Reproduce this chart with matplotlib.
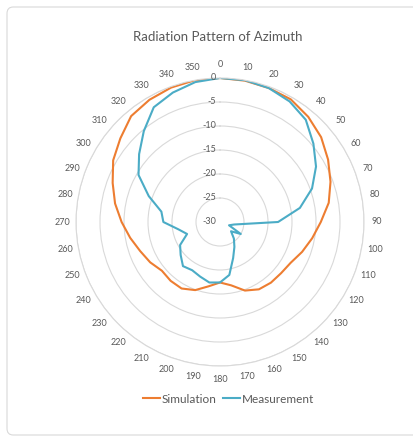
"""
Radiation pattern of azimuth: simulation vs measurement (Excel-style radar)
"""
import numpy as np
import matplotlib
matplotlib.use('Agg')
import matplotlib.pyplot as plt
from matplotlib.patches import FancyBboxPatch

plt.rcParams['font.family'] = ['Lato', 'DejaVu Sans']

angles = list(range(0, 360, 10))
simulation = [0, -0.1, -0.3, -0.5, -1.4, -2.5, -4.0, -5.5, -7.0, -9.0,
              -10.5, -11.8, -13.0, -13.4, -13.5, -13.8, -14.8, -16.6, -17.4, -16.4,
              -14.9, -14.0, -14.0, -14.2, -13.2, -12.3, -11.0, -9.5, -7.8, -6.2,
              -4.3, -2.9, -1.2, -0.6, -0.2, 0]
measurement = [0, 0, -0.3, -1.0, -2.2, -4.6, -6.9, -9.6, -13.1, -17.9,
               -27.0, -28.0, -25.0, -27.0, -25.5, -24.0, -22.0, -18.8, -17.4, -17.2,
               -17.9, -18.4, -18.0, -19.3, -20.4, -22.7, -21.2, -18.2, -17.6, -14.2,
               -10.4, -8.0, -5.3, -2.4, -1.3, -0.4]
r_ticks = [0, -5, -10, -15, -20, -25, -30]

fig = plt.figure(figsize=(4.13, 4.36), dpi=100)

# chart area frame
frame = FancyBboxPatch((7 / 413, 1 / 436), 440 / 413, 428 / 436,
                       boxstyle='round,pad=0,rounding_size=0.015',
                       transform=fig.transFigure, facecolor='white',
                       edgecolor='#d9d9d9', linewidth=0.8, zorder=-5)
fig.patches.append(frame)

ax = fig.add_axes([76 / 413, 70 / 436, 288 / 413, 288 / 436], projection='polar')
ax.set_theta_zero_location('N')
ax.set_theta_direction(-1)
ax.set_ylim(-30, 0)
ax.patch.set_alpha(0)

theta = np.deg2rad(angles + [angles[0]])
ax.plot(theta, simulation + [simulation[0]], color='#ED7D31', lw=1.5, label='Simulation')
ax.plot(theta, measurement + [measurement[0]], color='#4BACC6', lw=1.5, label='Measurement')

ax.set_yticks(r_ticks)
ax.set_yticklabels([])
ax.yaxis.grid(True, color='#d9d9d9', lw=0.8)
ax.xaxis.grid(False)
ax.spines['polar'].set_color('#d9d9d9')
ax.spines['polar'].set_linewidth(0.8)
ax.set_thetagrids(angles, [str(a) for a in angles], fontsize=6.5, color='#595959')
ax.tick_params(axis='x', pad=-1)

for v in r_ticks:
    ax.annotate(str(v), xy=(0, v), xytext=(-3, 0), textcoords='offset points',
                ha='right', va='center', fontsize=6.5, color='#595959')

fig.text(217.5 / 413, 1 - 37 / 436, 'Radiation Pattern of Azimuth', ha='center', va='center',
         fontsize=9.5, color='#595959')

fig.legend(loc='center', bbox_to_anchor=(0.553, 1 - 399 / 436), ncol=2, frameon=False,
           fontsize=8.5, handlelength=1.4, handletextpad=0.15, columnspacing=0.6,
           labelcolor='#595959')

plt.savefig('out.png', dpi=100)
